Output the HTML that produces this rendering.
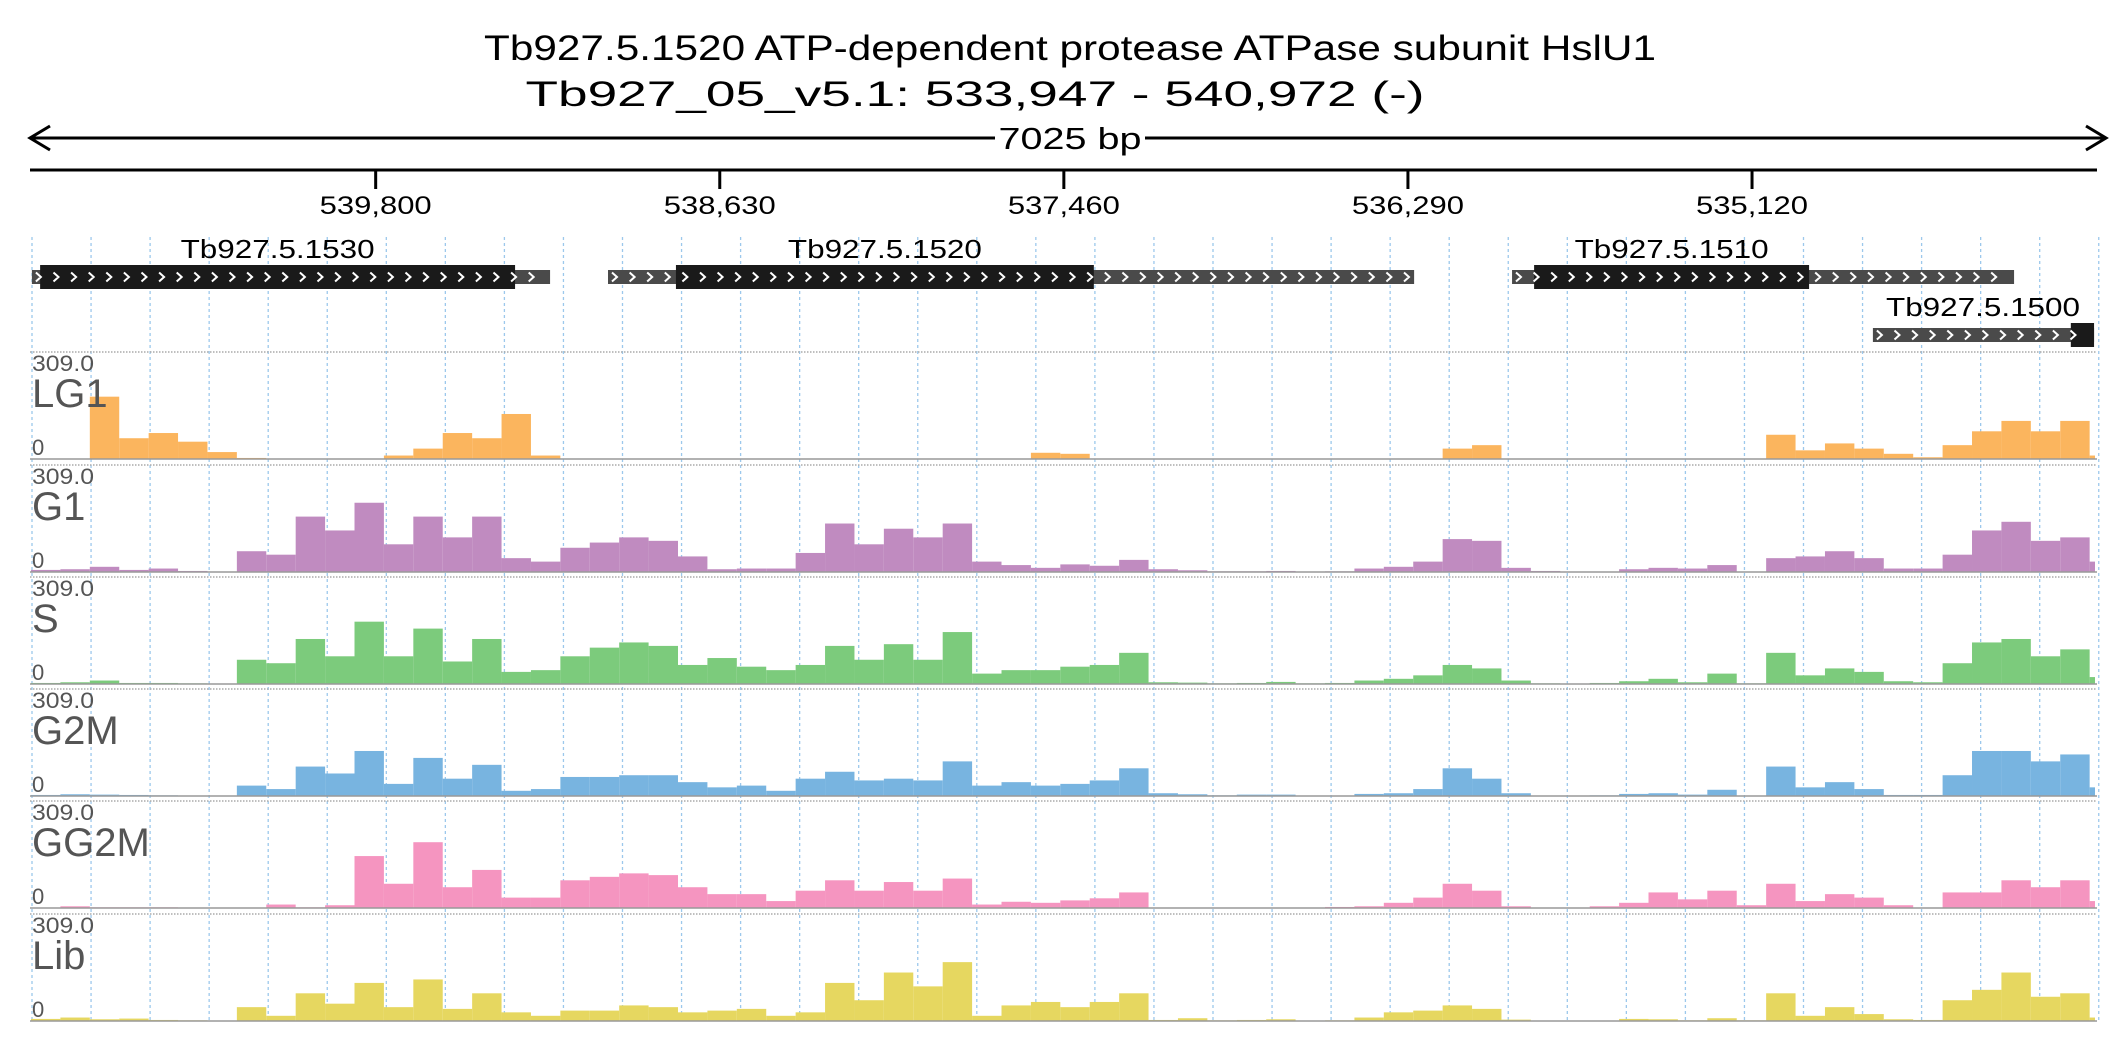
<!DOCTYPE html>
<html><head><meta charset="utf-8"><style>
html,body{margin:0;padding:0;background:#fff;}
svg{display:block;font-family:"Liberation Sans",sans-serif;}
</style></head><body>
<svg id="chart" width="2126" height="1058" viewBox="0 0 2126 1058" xmlns="http://www.w3.org/2000/svg">
<text x="1070" y="60" font-size="35" text-anchor="middle" textLength="1172" lengthAdjust="spacingAndGlyphs">Tb927.5.1520  ATP-dependent protease ATPase subunit HslU1</text>
<text x="975" y="106" font-size="35" text-anchor="middle" textLength="899" lengthAdjust="spacingAndGlyphs">Tb927_05_v5.1: 533,947 - 540,972 (-)</text>
<g>
<line x1="32" y1="138" x2="2104" y2="138" stroke="#000" stroke-width="3"/>
<path d="M50 126 L30 138 L50 150" stroke="#000" stroke-width="3" fill="none"/>
<path d="M2086 126 L2106 138 L2086 150" stroke="#000" stroke-width="3" fill="none"/>
<rect x="995" y="120" width="150" height="36" fill="#fff"/>
<text x="1070" y="149" font-size="31" text-anchor="middle" textLength="143" lengthAdjust="spacingAndGlyphs">7025 bp</text>
</g>
<g id="axis"></g>
<g id="grid"></g>
<g id="genes"></g>
<g id="tracks"></g>
</svg>
<script>
const NS="http://www.w3.org/2000/svg";
const startBp=540972, spanBp=7025;
const X0=31, X1=2097;
function xs(bp){return X0+(startBp-bp)/spanBp*(X1-X0);}
function xo(off){return X0+off/spanBp*(X1-X0);}
function mk(tag,attrs,parent){const e=document.createElementNS(NS,tag);for(const k in attrs)e.setAttribute(k,attrs[k]);parent.appendChild(e);return e;}

const tickValues=[539800,538630,537460,536290,535120];
const tickLabels=["539,800","538,630","537,460","536,290","535,120"];

const geneNames=["Tb927.5.1530","Tb927.5.1520","Tb927.5.1510","Tb927.5.1500"];
const geneStart=[540969,539010,535936,534709];
const geneEnd=[539207,536269,534229,533957];
const cdsStart=[540941,538779,535861,534036];
const cdsEnd=[539326,537358,534926,533957];
const geneRow=[0,0,0,1];

const trackNames=["LG1","G1","S","G2M","GG2M","Lib"];
const trackMax=309;
const binSize=100;
const valsLG1=[0,0,180,60,75,50,20,3,0,0,0,0,10,30,75,60,130,10,0,0,0,0,0,0,0,0,0,0,0,0,0,0,0,0,18,15,0,0,0,0,0,0,0,0,0,0,0,0,30,40,0,0,0,0,0,0,0,0,0,70,25,45,30,15,5,40,80,110,80,110,10];
const valsG1=[6,8,15,6,10,3,0,60,50,160,120,200,80,160,100,160,40,30,70,85,100,90,45,8,10,10,55,140,80,125,100,140,30,20,12,22,18,35,8,5,2,2,3,1,2,10,15,30,95,90,12,3,0,1,8,12,10,20,0,40,45,60,40,10,10,50,120,145,90,100,30];
const valsS=[3,5,10,3,3,2,0,70,60,130,80,180,80,160,65,130,35,40,80,105,120,110,55,75,50,40,55,110,70,115,70,150,30,40,40,50,55,90,5,4,2,3,6,2,3,10,15,25,55,45,10,2,1,3,8,15,5,30,2,90,25,45,35,8,5,60,120,130,80,100,20];
const valsG2M=[3,5,4,3,2,0,0,30,20,85,65,130,35,110,50,90,15,20,55,55,60,60,40,25,30,15,50,70,45,50,45,100,30,40,30,35,45,80,8,5,2,4,4,1,1,6,8,20,80,50,8,0,0,2,6,8,4,18,0,85,25,40,20,3,3,60,130,130,100,120,25];
const valsGG2M=[1,5,2,2,2,1,0,0,10,2,8,150,70,190,60,110,30,30,80,90,100,95,60,40,40,20,50,80,50,75,50,85,10,18,15,22,28,45,0,0,0,0,0,0,3,5,15,30,70,50,5,0,0,5,15,45,25,50,8,70,20,40,30,8,0,45,45,80,60,80,20];
const valsLib=[6,10,5,7,3,2,1,40,15,80,50,110,40,120,35,80,25,15,30,30,45,40,25,30,35,15,25,110,60,140,100,170,15,45,55,40,55,80,3,8,2,3,5,1,2,10,25,30,45,35,4,0,0,0,6,5,2,8,2,80,15,40,20,5,3,60,90,140,70,80,10];
const trackVals=[valsLG1,valsG1,valsS,valsG2M,valsGG2M,valsLib];
const trackColors=["#fbb55e","#c08bc0","#7ccb7c","#78b4e0","#f595c0","#e6d760"];
const trackTop=[352,465,577,689,801,914], trackH=107;

const ax=document.getElementById('axis');
const axl=mk('line',{x1:30,y1:170,x2:2097,y2:170,stroke:'#000','stroke-width':3},ax);


tickValues.forEach((v,i)=>{
  const x=xs(v);
  const t=mk('line',{x1:x,y1:170,x2:x,y2:189,stroke:'#000','stroke-width':3},ax);
  
  
  const l=mk('text',{x:x,y:214,'font-size':25,'text-anchor':'middle',textLength:112,lengthAdjust:'spacingAndGlyphs'},ax);
  l.textContent=tickLabels[i];
  
  
});
const gr=document.getElementById('grid');
for(let k=0;k<36;k++){
  const x=32+k*59.05;
  const g=mk('line',{x1:x,y1:237,x2:x,y2:1022,stroke:'#9cc8ec','stroke-width':1.3,'stroke-dasharray':'3,3'},gr);
  
  
}
const gn=document.getElementById('genes');
geneNames.forEach((n,i)=>{
  const cy=geneRow[i]?335:277;
  const g=mk('g',{},gn);
  
  
  const a=xs(geneStart[i]), b=xs(geneEnd[i]);
  mk('rect',{x:a,y:cy-7,width:b-a,height:14,fill:'#4a4a4a'},g);
  const c=xs(cdsStart[i]), d=xs(cdsEnd[i]);
  const w=Math.max(d-c,22);
  mk('rect',{x:c,y:cy-12,width:w,height:24,fill:'#1a1a1a'},g);
  let dpath='';
  for(let cx=a+4;cx<b-6;cx+=17.6){dpath+=`M${cx.toFixed(1)} ${cy-4.5} L${(cx+5).toFixed(1)} ${cy} L${cx.toFixed(1)} ${cy+4.5} `;}
  const ch=mk('path',{d:dpath,stroke:'#fff','stroke-width':2,fill:'none'},g);
  
  
  const lx=geneRow[i]?1983:(c+w/2);
  const t=mk('text',{x:lx,y:cy-19,'font-size':26,'text-anchor':'middle',textLength:194,lengthAdjust:'spacingAndGlyphs'},g);
  t.textContent=n;
  
  
});
const tr=document.getElementById('tracks');
trackNames.forEach((name,ti)=>{
  const top=trackTop[ti], base=top+trackH;
  const g=mk('g',{},tr);
  
  
  mk('line',{x1:30,y1:top,x2:2097,y2:top,stroke:'#aaa','stroke-width':1.5,'stroke-dasharray':'1.5,1.5'},g);
  trackVals[ti].forEach((v,i)=>{
    if(v<=0)return;
    const x0=xo(i*binSize), x1=Math.min(xo(Math.min((i+1)*binSize,spanBp)),2095);
    const h=v/trackMax*trackH;
    const r=mk('rect',{x:x0,y:base-h,width:Math.max(0,x1-x0),height:h,fill:trackColors[ti]},g);
    
    
  });
  mk('line',{x1:30,y1:base,x2:2097,y2:base,stroke:'#999','stroke-width':1.5},g);
  const mx=mk('text',{x:32,y:top+19,'font-size':22,fill:'#555',textLength:62,lengthAdjust:'spacingAndGlyphs'},g);
  mx.textContent='309.0';
  
  
  const nm=mk('text',{x:32,y:top+55,'font-size':40,fill:'#555'},g);
  nm.textContent=name;
  
  
  const z=mk('text',{x:32,y:base-4,'font-size':22,fill:'#555'},g);
  z.textContent='0';
  
  
});
</script>
</body></html>
